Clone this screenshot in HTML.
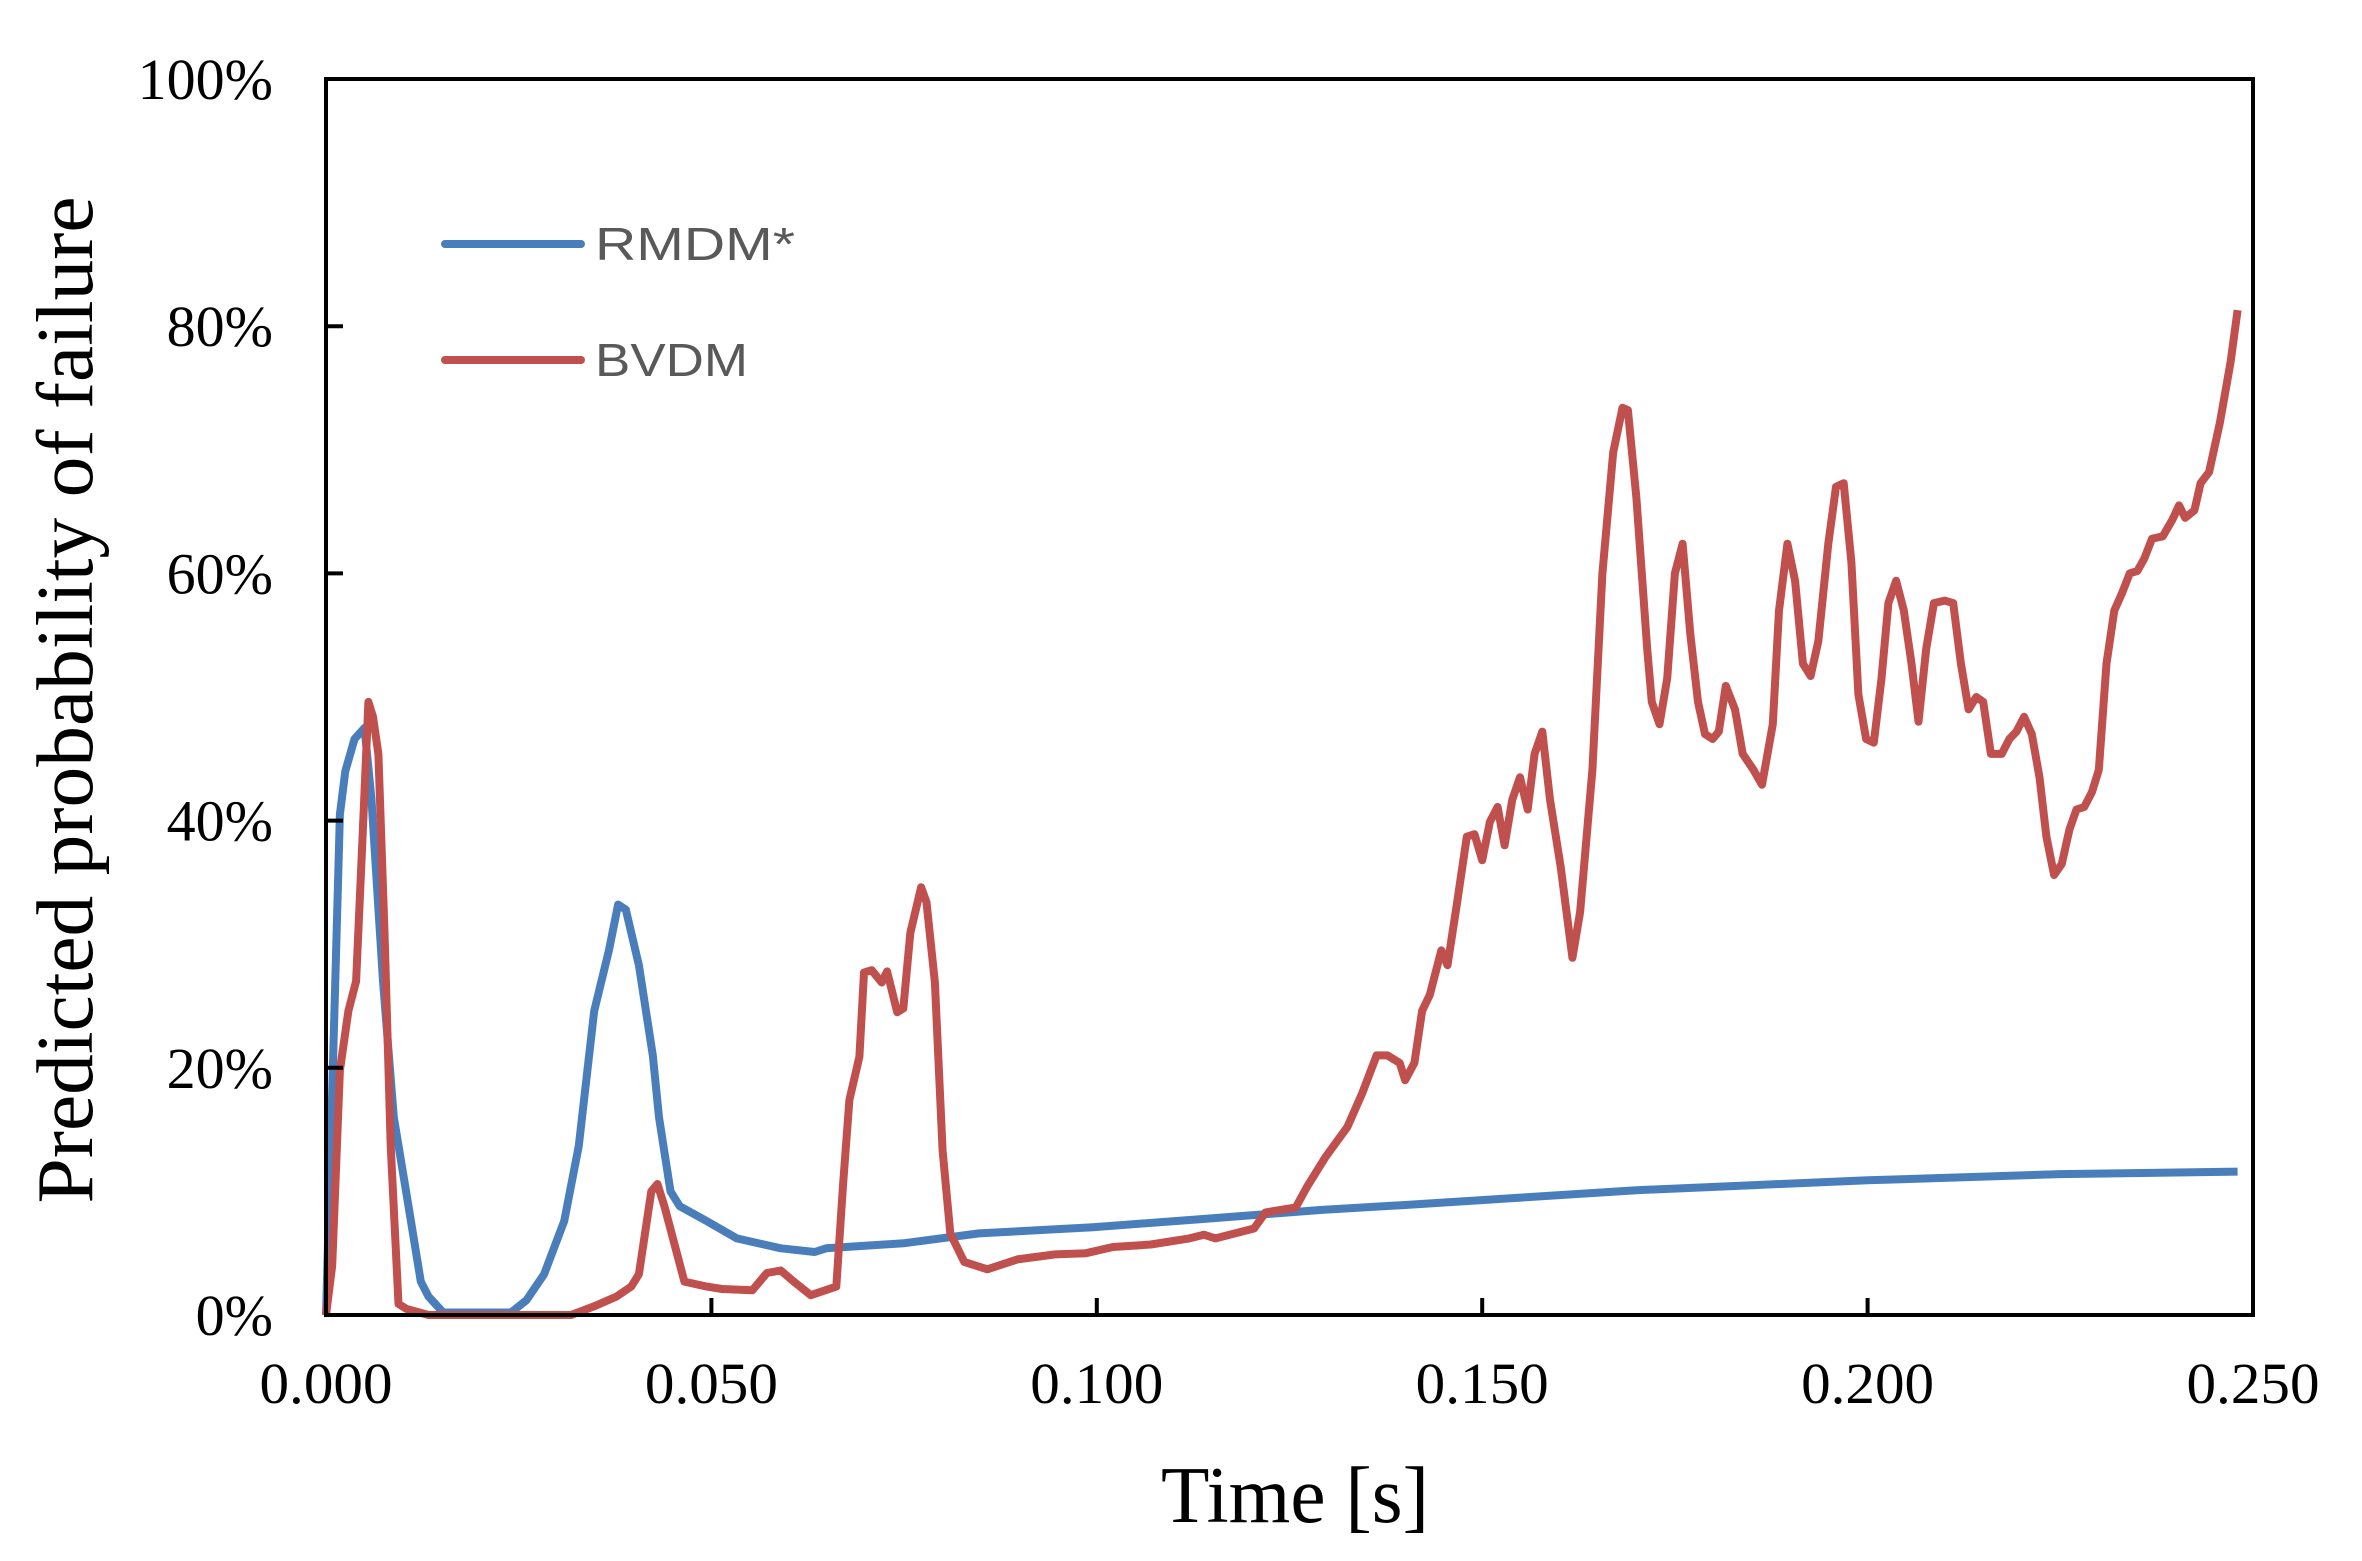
<!DOCTYPE html>
<html><head><meta charset="utf-8"><style>
html,body{margin:0;padding:0;background:#fff;}
svg{display:block;}
</style></head><body>
<svg id="chart" width="2362" height="1561" viewBox="0 0 2362 1561" xmlns="http://www.w3.org/2000/svg">
<rect x="0" y="0" width="2362" height="1561" fill="#fff"/>
<g id="series"></g>
<g id="axes"></g>
<g>
<line x1="445" y1="244" x2="581" y2="244" stroke="#4a7ebb" stroke-width="8" stroke-linecap="round"/>
<text x="595" y="260" font-family="Liberation Sans, sans-serif" font-size="46" fill="#595959" textLength="200" lengthAdjust="spacingAndGlyphs">RMDM*</text>
<line x1="445" y1="360" x2="581" y2="360" stroke="#c0504d" stroke-width="8" stroke-linecap="round"/>
<text x="595" y="376" font-family="Liberation Sans, sans-serif" font-size="46" fill="#595959" textLength="153" lengthAdjust="spacingAndGlyphs">BVDM</text>
</g>
<text x="1295" y="1522" text-anchor="middle" font-family="Liberation Serif, serif" font-size="80" fill="#000" textLength="268" lengthAdjust="spacingAndGlyphs">Time [s]</text>
<text transform="translate(92,700) rotate(-90)" text-anchor="middle" font-family="Liberation Serif, serif" font-size="80" fill="#000" textLength="1007" lengthAdjust="spacingAndGlyphs">Predicted probability of failure</text>
</svg>
<script>
const xTicks = [0, 0.05, 0.1, 0.15, 0.2, 0.25];
const xTickLabels = ["0.000","0.050","0.100","0.150","0.200","0.250"];
const yTicks = [0, 20, 40, 60, 80, 100];
const yTickLabels = ["0%","20%","40%","60%","80%","100%"];
const rmdmT = [0,0.0018,0.0025,0.0037,0.005,0.0059,0.0074,0.0088,0.0107,0.0123,0.0133,0.0152,0.024,0.026,0.0283,0.0309,0.0328,0.0348,0.0367,0.0379,0.0389,0.0406,0.0424,0.0432,0.0447,0.0459,0.0494,0.0533,0.059,0.0634,0.0649,0.0749,0.0847,0.0995,0.1144,0.1292,0.14,0.155,0.17,0.185,0.2,0.215,0.225,0.248];
const rmdmP = [0,40.5,44,46.6,47.5,41.7,27,16,8.8,2.7,1.5,0.2,0.2,1.2,3.3,7.6,13.7,24.6,29.5,33.2,32.8,28.3,21,16,10,8.8,7.6,6.2,5.4,5.1,5.4,5.8,6.6,7.1,7.8,8.5,8.9,9.5,10.1,10.5,10.9,11.2,11.4,11.6];
const bvdmT = [0,0.0008,0.0018,0.0029,0.0039,0.0047,0.0055,0.0061,0.0068,0.0076,0.0084,0.0094,0.0104,0.0133,0.0318,0.0348,0.0377,0.0396,0.0406,0.0422,0.043,0.0439,0.0465,0.0494,0.0514,0.0553,0.0572,0.059,0.0605,0.0629,0.0662,0.0671,0.0679,0.0692,0.0698,0.0708,0.0721,0.0728,0.0741,0.0749,0.0758,0.0772,0.0779,0.079,0.08,0.081,0.0828,0.0858,0.0897,0.0946,0.0986,0.1021,0.107,0.112,0.1139,0.1154,0.1204,0.1219,0.1258,0.1273,0.1297,0.1325,0.1344,0.1363,0.1377,0.1393,0.14,0.1412,0.1422,0.1432,0.1447,0.1455,0.1467,0.148,0.149,0.15,0.151,0.152,0.1529,0.1539,0.1549,0.1559,0.1568,0.1578,0.1588,0.1602,0.1617,0.1627,0.1643,0.1656,0.167,0.1682,0.1689,0.17,0.1714,0.172,0.173,0.174,0.175,0.176,0.177,0.178,0.1789,0.1799,0.1807,0.1816,0.1828,0.1838,0.1852,0.1863,0.1877,0.1885,0.1896,0.1906,0.1916,0.1926,0.1936,0.1949,0.1959,0.1969,0.1979,0.1988,0.1998,0.2008,0.2018,0.2027,0.2037,0.2047,0.2057,0.2066,0.2076,0.2086,0.21,0.2111,0.2121,0.2131,0.2141,0.215,0.216,0.2174,0.2184,0.2193,0.2203,0.2213,0.2223,0.2232,0.2242,0.2252,0.2262,0.2271,0.2281,0.2291,0.23,0.231,0.232,0.233,0.234,0.235,0.2359,0.2369,0.2383,0.2395,0.2404,0.2412,0.2424,0.2432,0.2443,0.2457,0.2471,0.248];
const bvdmP = [0,4,19.8,24.6,27,38,49.6,48.4,45.4,30.7,13.7,0.9,0.5,0,0,0.7,1.5,2.3,3.3,10,10.6,8.8,2.7,2.3,2.1,2,3.4,3.6,2.8,1.6,2.3,10.7,17.4,20.9,27.7,27.9,26.9,27.8,24.5,24.8,30.9,34.6,33.4,26.9,13.3,6.6,4.3,3.7,4.5,4.9,5,5.5,5.7,6.2,6.5,6.2,7,8.3,8.7,10.4,12.8,15.2,17.9,21,21,20.4,19,20.4,24.6,25.9,29.5,28.3,33.2,38.7,38.9,36.8,39.9,41.1,38,41.7,43.5,40.9,45.4,47.2,41.7,36.2,28.9,32.6,44.1,60,69.8,73.4,73.2,66.1,53.9,49.6,47.8,51.5,60,62.4,55.1,49.6,47,46.6,47.2,50.9,49,45.4,44.1,42.9,47.8,57,62.4,59.4,52.7,51.7,54.5,62.4,67,67.3,60.9,50.2,46.6,46.3,51.5,57.6,59.4,57,52.7,48,53.9,57.6,57.8,57.6,52.7,49,50,49.6,45.4,45.4,46.6,47.2,48.4,47,43.5,38.7,35.6,36.5,39.3,40.9,41.1,42.3,44.1,52.7,57,58.4,60,60.2,61.2,62.8,63,64.3,65.5,64.5,65.1,67.3,68.2,72.2,77.1,81.3];

const NS = "http://www.w3.org/2000/svg";
const L = 326, R = 2253, T = 79, B = 1315;
function xs(v){ return L + v / 0.25 * (R - L); }
function ys(v){ return B - v / 100 * (B - T); }
const series = document.getElementById('series');
const axes = document.getElementById('axes');

function drawLine(tt, pp, color, name){
  const p = document.createElementNS(NS, 'polyline');
  p.setAttribute('points', tt.map((t,i)=>xs(t).toFixed(1)+','+ys(pp[i]).toFixed(1)).join(' '));
  p.setAttribute('fill','none');
  p.setAttribute('stroke',color);
  p.setAttribute('stroke-width','8');
  p.setAttribute('stroke-linejoin','round');
  
  
  series.appendChild(p);
}
drawLine(rmdmT, rmdmP, '#4a7ebb', 'rmdm-line');
drawLine(bvdmT, bvdmP, '#c0504d', 'bvdm-line');

const frame = document.createElementNS(NS, 'rect');
frame.setAttribute('x', L); frame.setAttribute('y', T);
frame.setAttribute('width', R - L); frame.setAttribute('height', B - T);
frame.setAttribute('fill', 'none'); frame.setAttribute('stroke', '#000'); frame.setAttribute('stroke-width', '4');


axes.appendChild(frame);

xTicks.forEach((v,i)=>{
  const x = xs(v);
  const tk = document.createElementNS(NS, 'line');
  tk.setAttribute('x1', x); tk.setAttribute('x2', x); tk.setAttribute('y1', B); tk.setAttribute('y2', B - 17);
  tk.setAttribute('stroke', '#000'); tk.setAttribute('stroke-width', '4');
  
  
  axes.appendChild(tk);
  const tx = document.createElementNS(NS, 'text');
  tx.setAttribute('x', x); tx.setAttribute('y', 1403);
  tx.setAttribute('text-anchor', 'middle');
  tx.setAttribute('font-family', 'Liberation Serif, serif');
  tx.setAttribute('font-size', '58');
  tx.setAttribute('textLength', '133');
  tx.setAttribute('lengthAdjust', 'spacingAndGlyphs');
  tx.textContent = xTickLabels[i];
  
  
  axes.appendChild(tx);
});
yTicks.forEach((v,i)=>{
  const y = ys(v);
  const tk = document.createElementNS(NS, 'line');
  tk.setAttribute('x1', L); tk.setAttribute('x2', L + 17); tk.setAttribute('y1', y); tk.setAttribute('y2', y);
  tk.setAttribute('stroke', '#000'); tk.setAttribute('stroke-width', '4');
  
  
  axes.appendChild(tk);
  const tx = document.createElementNS(NS, 'text');
  tx.setAttribute('x', 273); tx.setAttribute('y', y + 20);
  tx.setAttribute('text-anchor', 'end');
  tx.setAttribute('font-family', 'Liberation Serif, serif');
  tx.setAttribute('font-size', '58');
  tx.textContent = yTickLabels[i];
  
  
  axes.appendChild(tx);
});
</script>
</body></html>
